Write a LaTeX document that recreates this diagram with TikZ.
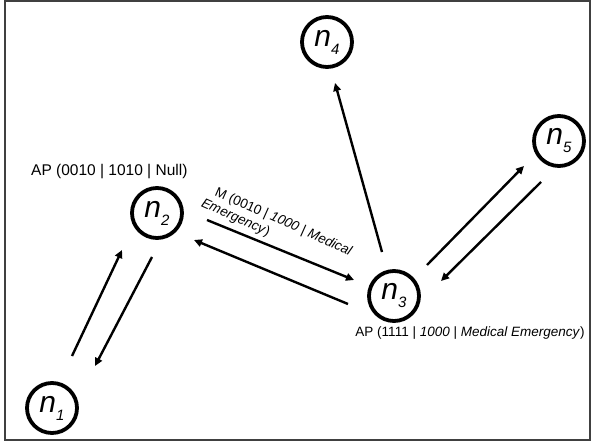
\documentclass[tikz,border=0pt]{standalone}
\usepackage{fontspec}
\setmainfont{Liberation Sans}
\usetikzlibrary{arrows.meta}
\tikzset{
  nd/.style={circle, draw, line width=3.8pt, minimum size=50pt, inner sep=0pt},
  arr/.style={line width=2.4pt, -{Triangle[length=8pt,width=7.5pt]}},
  lbl/.style={font=\fontsize{15.5}{18}\selectfont, inner sep=0pt},
}
\newcommand{\nlab}[1]{{\fontsize{30}{30}\selectfont\itshape n\raisebox{-8pt}{\fontsize{15}{15}\selectfont #1}}}
\begin{document}
\begin{tikzpicture}[x=1pt,y=-1pt]
\useasboundingbox (0,0) rectangle (591,443);
\draw[line width=1.5pt, black!75] (5,1) rectangle (590,440);
% nodes
\node[nd] (n1) at (52,408) {\nlab{1}};
\node[nd] (n2) at (157,213) {\nlab{2}};
\node[nd] (n3) at (394,296) {\nlab{3}};
\node[nd] (n4) at (327,42) {\nlab{4}};
\node[nd] (n5) at (559,141) {\nlab{5}};
% endpoints
\coordinate (a12s) at (72,356);  \coordinate (a12e) at (122,250);
\coordinate (a21s) at (152,257); \coordinate (a21e) at (95,366);
\coordinate (a23s) at (207,220); \coordinate (a23e) at (354,280);
\coordinate (a32s) at (348,304); \coordinate (a32e) at (194,240);
\coordinate (a34s) at (382,252); \coordinate (a34e) at (335,83);
\coordinate (a35s) at (427,265); \coordinate (a35e) at (524,166);
\coordinate (a53s) at (541,182); \coordinate (a53e) at (441,281);
\draw[arr] (a12s) -- (a12e);
\draw[arr] (a21s) -- (a21e);
\draw[arr] (a23s) -- (a23e);
\draw[arr] (a32s) -- (a32e);
\draw[arr] (a34s) -- (a34e);
\draw[arr] (a35s) -- (a35e);
\draw[arr] (a53s) -- (a53e);
% labels
\node[lbl, anchor=west] (l2) at (31,172) {AP (0010 | 1010 | Null)};
\node[lbl, font=\fontsize{13.5}{16}\selectfont] (l3) at (470,333) {AP (1111 | \textit{1000} | \textit{Medical Emergency})};
\node[lbl, font=\fontsize{13.5}{13.5}\selectfont, align=left, rotate=-24, anchor=north west] (lm) at (218,186)
  {M (0010 | \textit{1000} | \textit{Medical}\\[2pt]\hspace*{-8pt}\textit{Emergency})};
\end{tikzpicture}
\end{document}
